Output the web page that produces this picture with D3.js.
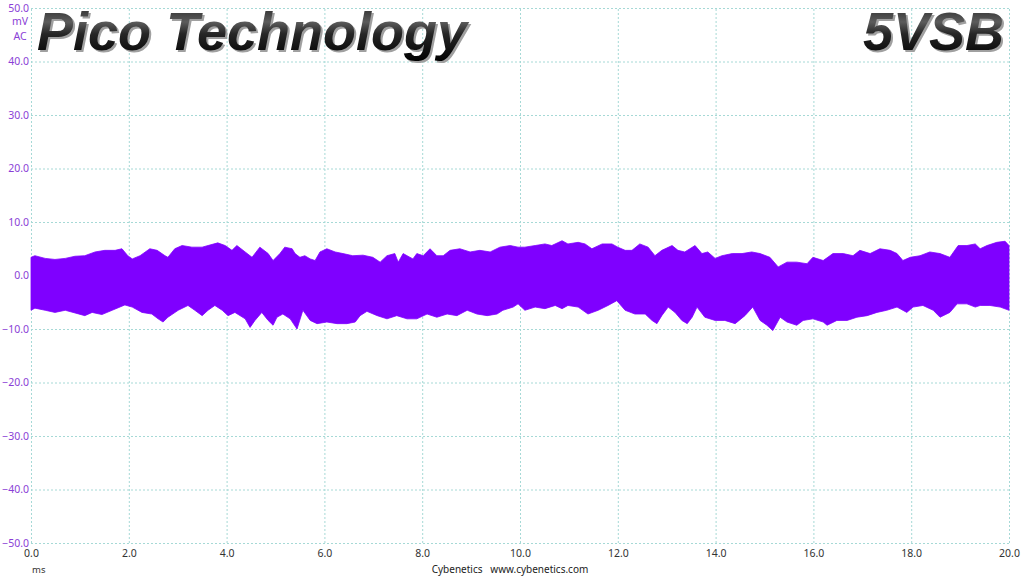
<!DOCTYPE html>
<html>
<head>
<meta charset="utf-8">
<script src="https://cdn.jsdelivr.net/npm/d3@7"></script>
<style>
  html, body { margin: 0; padding: 0; background: #fff; }
  svg { display: block; }
</style>
</head>
<body>
<svg id="scope_svg" width="1024" height="576"></svg>
<script>

// envelope of the ripple trace (ms, mV)
upper_t = [0.00,0.08,0.29,0.49,0.70,0.90,1.10,1.31,1.51,1.72,1.86,1.98,2.07,2.23,2.43,2.58,2.74,2.80,2.94,3.09,3.29,3.50,3.62,3.82,3.97,4.11,4.21,4.38,4.52,4.68,4.85,4.95,
  5.09,5.19,5.34,5.40,5.50,5.60,5.71,5.81,5.91,6.05,6.22,6.38,6.58,6.79,6.99,7.14,7.28,7.44,7.51,7.61,7.81,7.89,8.02,8.16,8.30,8.43,8.57,8.77,8.98,9.18,9.39,9.59,9.80,9.96,
  10.10,10.31,10.51,10.65,10.86,10.98,11.19,11.33,11.47,11.68,11.88,12.00,12.15,12.29,12.45,12.62,12.76,12.90,13.11,13.23,13.37,13.58,13.72,13.84,13.99,14.13,14.34,14.54,14.74,
  14.91,15.11,15.28,15.46,15.66,15.87,15.99,16.20,16.40,16.61,16.81,16.95,17.16,17.36,17.57,17.71,17.83,17.98,18.18,18.38,18.59,18.79,18.96,19.14,19.31,19.41,19.55,19.75,19.92,20.00];
upper_mv = [3.4,3.7,3.2,3.0,3.2,3.6,3.7,4.4,4.7,4.7,5.0,3.7,3.1,3.7,5.0,4.7,3.7,3.4,5.0,5.6,5.3,5.3,5.6,6.1,5.6,4.7,5.6,4.4,3.4,5.3,4.1,2.8,
  4.1,5.3,5.0,4.1,3.4,3.7,3.1,2.8,4.4,5.0,4.4,4.1,3.7,3.8,3.4,2.5,3.7,4.1,2.5,4.1,3.1,4.1,3.7,5.0,3.7,3.7,4.7,5.0,4.4,4.7,4.4,5.3,5.6,5.3,
  5.3,5.6,5.9,5.6,6.5,5.9,6.2,5.9,5.0,5.9,5.9,5.3,4.7,4.7,5.9,5.3,3.7,4.7,5.6,4.7,4.4,5.6,4.1,4.4,3.2,3.7,4.1,4.1,4.4,
  4.1,3.4,1.6,2.5,2.5,2.2,3.4,2.8,4.1,4.1,3.7,4.7,4.1,5.0,4.7,4.1,2.8,3.4,3.7,4.4,4.1,3.4,5.6,5.6,5.9,5.0,5.6,6.2,6.4,5.6];

lower_t = [0.00,0.08,0.29,0.49,0.70,0.90,1.10,1.25,1.45,1.66,1.92,2.07,2.27,2.47,2.60,2.70,2.80,3.01,3.21,3.35,3.50,3.62,3.76,3.91,4.03,4.17,4.38,4.48,4.58,4.72,4.85,4.95,
  5.03,5.15,5.30,5.44,5.56,5.71,5.85,6.05,6.26,6.46,6.63,6.73,6.87,7.08,7.28,7.48,7.69,7.89,8.10,8.30,8.51,8.71,8.92,9.12,9.33,9.53,9.65,9.86,9.96,
  10.10,10.31,10.51,10.72,10.86,10.98,11.19,11.39,11.60,11.80,11.98,12.15,12.35,12.56,12.70,12.80,12.90,13.03,13.17,13.31,13.42,13.52,13.62,13.78,13.99,14.19,14.40,14.60,14.76,
  14.91,15.05,15.17,15.32,15.46,15.66,15.79,15.99,16.20,16.28,16.48,16.69,16.89,17.10,17.30,17.50,17.71,17.91,18.04,18.24,18.45,18.59,18.79,18.94,19.14,19.31,19.41,19.61,19.82,20.00];
lower_mv = [-6.5,-6.1,-6.5,-6.9,-6.5,-7.0,-7.5,-6.9,-7.3,-6.5,-5.5,-5.9,-6.9,-7.2,-8.1,-8.7,-7.8,-6.5,-5.6,-6.5,-7.5,-6.5,-5.6,-6.5,-7.5,-6.9,-8.1,-9.7,-8.4,-6.9,-8.4,-9.3,
  -7.8,-7.2,-8.1,-10.0,-6.5,-8.4,-9.0,-8.7,-9.0,-9.0,-8.7,-7.5,-6.7,-7.5,-8.1,-7.5,-8.1,-8.1,-7.2,-7.8,-7.2,-7.5,-6.5,-7.2,-7.5,-7.2,-6.5,-5.9,-5.3,
  -6.5,-5.9,-6.2,-5.6,-6.2,-5.6,-5.9,-7.2,-6.5,-5.6,-4.7,-6.5,-7.2,-7.2,-8.4,-9.0,-7.5,-5.9,-6.9,-8.4,-9.0,-7.8,-5.9,-7.8,-8.4,-8.4,-9.0,-7.5,-5.9,
  -8.4,-9.3,-10.3,-7.8,-8.7,-9.3,-8.4,-8.1,-8.7,-9.3,-8.4,-8.4,-7.8,-7.5,-6.9,-6.5,-5.9,-6.9,-5.9,-5.6,-6.5,-7.8,-6.9,-5.3,-5.3,-5.9,-5.6,-5.6,-5.9,-6.5];

x_ticks = [0,2,4,6,8,10,12,14,16,18,20]
y_ticks = [50,40,30,20,10,0,-10,-20,-30,-40,-50]

title_left = "Pico Technology"
title_right = "5VSB"

plot_left = 31
plot_right = 1009
plot_top = 8
plot_bottom = 543
trace_color = "#7f00ff"
grid_color = "#a6d9d6"
label_purple = "#8a3ed6"

document.addEventListener('DOMContentLoaded', function () {
    svg = d3.select('#scope_svg');
    drawScope(svg);
});

function drawScope(svg) {

    var xScale = d3.scaleLinear().domain([0, 20]).range([plot_left, plot_right]);
    var yScale = d3.scaleLinear().domain([-50, 50]).range([plot_bottom, plot_top]);

    // dashed grid
    var gy = svg.append("g")
        .attr("transform", "translate(" + plot_left + ",0)")
        .call(d3.axisLeft(yScale).tickValues(y_ticks)
            .tickSize(-(plot_right - plot_left)).tickFormat(""));
    var gx = svg.append("g")
        .attr("transform", "translate(0," + plot_bottom + ")")
        .call(d3.axisBottom(xScale).tickValues(x_ticks)
            .tickSize(-(plot_bottom - plot_top)).tickFormat(""));
    [gx, gy].forEach(function (g) {
        g.select(".domain").remove();
        g.selectAll("line")
            .style("stroke", grid_color)
            .style("stroke-width", 1)
            .style("stroke-dasharray", "2,2");
    });

    // trace envelope, upper edge forward then lower edge back
    var pts = upper_t.map(function (t, i) { return [t, upper_mv[i]]; });
    var low = lower_t.map(function (t, i) { return [t, lower_mv[i]]; }).reverse();
    var line = d3.line()
        .x(function (d) { return xScale(d[0]); })
        .y(function (d) { return yScale(d[1]); });

    svg.append("path")
        .attr("d", line(pts.concat(low)) + "Z")
        .style("fill", trace_color)
        .style("stroke", trace_color)
        .style("stroke-width", 0.8)
        .style("stroke-linejoin", "miter");

    // y tick labels
    var yl = svg.append("g")
        .attr("transform", "translate(" + plot_left + ",0)")
        .call(d3.axisLeft(yScale).tickValues(y_ticks).tickSize(0).tickPadding(2)
            .tickFormat(d3.format(".1f")));
    yl.select(".domain").remove();
    yl.selectAll("text")
        .style("font-family", "'Noto Sans', sans-serif")
        .style("font-size", "10.5px")
        .style("fill", label_purple);

    svg.append("text").attr("x", 20).attr("y", 25).attr("text-anchor", "middle")
        .style("font-family", "'Noto Sans', sans-serif").style("font-size", "10.5px")
        .style("fill", label_purple).text("mV");
    svg.append("text").attr("x", 20).attr("y", 40).attr("text-anchor", "middle")
        .style("font-family", "'Noto Sans', sans-serif").style("font-size", "10.5px")
        .style("fill", label_purple).text("AC");

    // x tick labels
    var xl = svg.append("g")
        .attr("transform", "translate(0," + plot_bottom + ")")
        .call(d3.axisBottom(xScale).tickValues(x_ticks).tickSize(0).tickPadding(7)
            .tickFormat(d3.format(".1f")));
    xl.select(".domain").remove();
    xl.selectAll("text")
        .style("font-family", "'Noto Sans', sans-serif")
        .style("font-size", "10.5px")
        .style("fill", "#333");

    svg.append("text").attr("x", 32).attr("y", 573)
        .style("font-family", "'Noto Sans', sans-serif").style("font-size", "9.5px")
        .style("fill", "#333").text("ms");
    svg.append("text").attr("x", 510).attr("y", 573).attr("text-anchor", "middle")
        .style("font-family", "'Noto Sans', sans-serif").style("font-size", "10px")
        .style("fill", "#222").attr("xml:space", "preserve")
        .text("Cybenetics   www.cybenetics.com");

    // big chrome-like titles
    var defs = svg.append("defs");
    var grad = defs.append("linearGradient").attr("id", "chrome")
        .attr("x1", 0).attr("y1", 0).attr("x2", 0).attr("y2", 1);
    grad.append("stop").attr("offset", "0%").attr("stop-color", "#1e1e1e");
    grad.append("stop").attr("offset", "35%").attr("stop-color", "#5c5c5c");
    grad.append("stop").attr("offset", "55%").attr("stop-color", "#262626");
    grad.append("stop").attr("offset", "100%").attr("stop-color", "#000");

    [{ txt: title_left, x: 37, anchor: "start" }, { txt: title_right, x: 1004, anchor: "end" }]
        .forEach(function (t) {
            svg.append("text").attr("x", t.x + 2).attr("y", 52).attr("text-anchor", t.anchor)
                .style("font-family", "'Liberation Sans', Arial, sans-serif")
                .style("font-weight", "bold").style("font-style", "italic")
                .style("font-size", "54px").style("fill", "#a0a0a0").text(t.txt);
            svg.append("text").attr("x", t.x).attr("y", 50).attr("text-anchor", t.anchor)
                .style("font-family", "'Liberation Sans', Arial, sans-serif")
                .style("font-weight", "bold").style("font-style", "italic")
                .style("font-size", "54px").style("fill", "url(#chrome)").text(t.txt);
        });
}
</script>
</body>
</html>
